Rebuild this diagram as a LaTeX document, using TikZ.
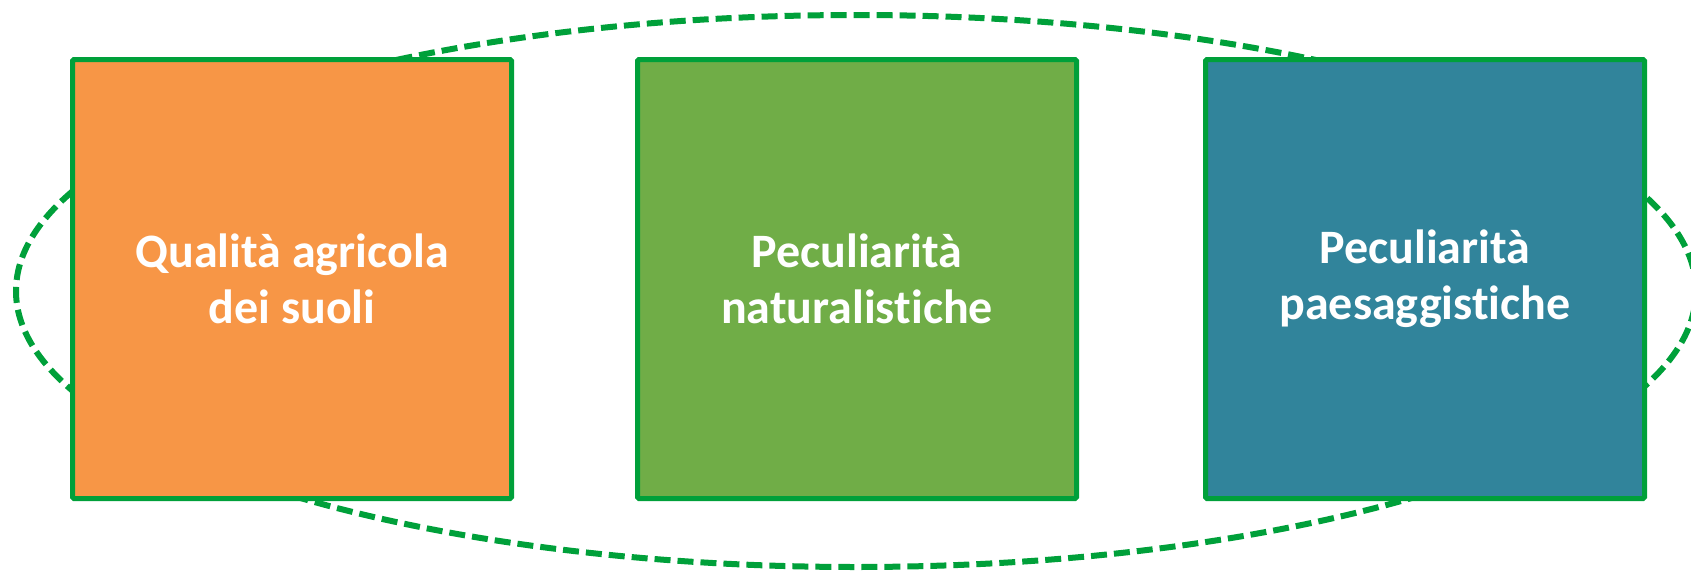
\documentclass[tikz,border=0pt]{standalone}
\usepackage{fontspec}
\setmainfont{Carlito}[Ligatures={NoCommon,NoRare,NoContextual}]
\definecolor{bordergreen}{HTML}{00A03A}
\definecolor{boxorange}{HTML}{F79646}
\definecolor{boxgreen}{HTML}{70AD47}
\definecolor{boxteal}{HTML}{31849B}
\tikzset{
  card/.style={draw=bordergreen, line width=5pt, rounded corners=1.5pt,
    minimum width=439pt, minimum height=439pt, inner sep=0pt,
    text=white, align=center,
    font=\fontsize{48}{56}\selectfont\bfseries},
  ring/.style={draw=bordergreen, line width=6pt, dash pattern=on 16pt off 7pt}
}
\begin{document}
\begin{tikzpicture}[x=1pt,y=1pt]
\useasboundingbox (0,0) rectangle (1691,-570);
\clip (0,0) rectangle (1691,-570);
\draw[ring] (856,-291) ellipse [x radius=840, y radius=276];
\node[card, fill=boxorange] (a) at (292,-279) {Qualità agricola\\dei suoli};
\node[card, fill=boxgreen] (b) at (857,-279) {Peculiarità\\naturalistiche};
\node[card, fill=boxteal] (c) at (1425,-279) {Peculiarità\\paesaggistiche};
\end{tikzpicture}
\end{document}
